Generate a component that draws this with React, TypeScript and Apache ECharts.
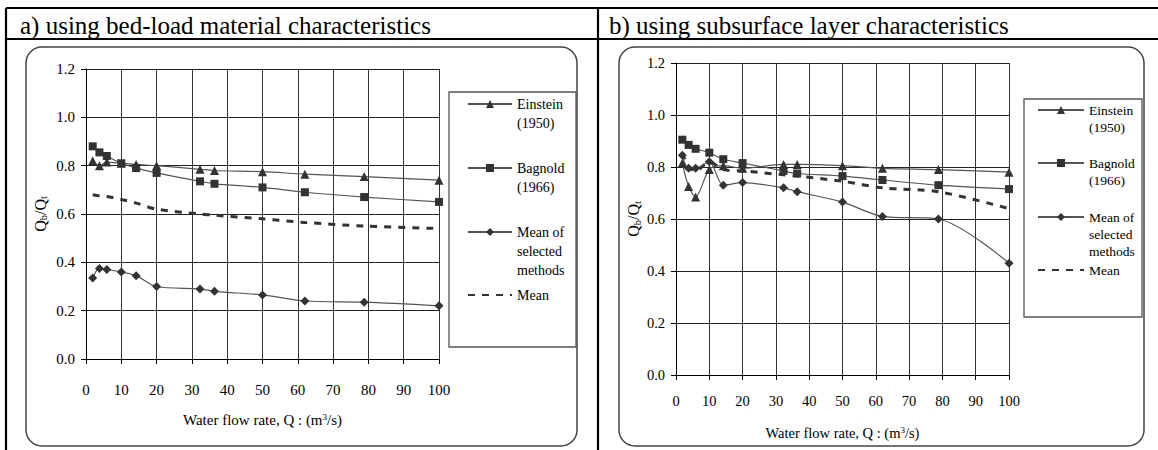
import React, { useEffect, useRef } from "react";
import * as echarts from "echarts";

// ---- data ----
const flowQ = [1.9, 3.8, 5.9, 10, 14.2, 20, 32.3, 36.4, 50, 62, 78.8, 100];

const einsteinA = [0.82, 0.8, 0.815, 0.81, 0.805, 0.8, 0.785, 0.78, 0.775, 0.765, 0.755, 0.74];
const bagnoldA = [0.88, 0.855, 0.84, 0.81, 0.79, 0.77, 0.735, 0.725, 0.71, 0.69, 0.67, 0.65];
const selectedA = [0.335, 0.375, 0.37, 0.36, 0.345, 0.3, 0.29, 0.28, 0.265, 0.24, 0.235, 0.22];
const meanA = [0.68, 0.675, 0.672, 0.66, 0.645, 0.62, 0.6, 0.595, 0.58, 0.565, 0.55, 0.54];

const einsteinB = [0.815, 0.725, 0.685, 0.79, 0.805, 0.795, 0.81, 0.81, 0.805, 0.795, 0.79, 0.78];
const bagnoldB = [0.905, 0.885, 0.87, 0.855, 0.83, 0.815, 0.785, 0.775, 0.765, 0.75, 0.73, 0.715];
const selectedB = [0.845, 0.795, 0.795, 0.82, 0.73, 0.74, 0.72, 0.705, 0.665, 0.61, 0.6, 0.43];
const meanB = [0.855, 0.8, 0.785, 0.82, 0.79, 0.785, 0.77, 0.765, 0.745, 0.72, 0.705, 0.64];

const seriesNames = ["Einstein\n(1950)", "Bagnold\n(1966)", "Mean of\nselected\nmethods", "Mean"];
const panelTitles = ["a) using bed-load material characteristics", "b) using subsurface layer characteristics"];
const xAxisTitle = "Water flow rate, Q : (m{sp|3}/s)";
const yAxisTitle = "Q{sb|b}/Q{sb|t}";

const FONT = "'Liberation Serif', 'Times New Roman', Times, serif";

const panelData = [
  [einsteinA, bagnoldA, selectedA, meanA],
  [einsteinB, bagnoldB, selectedB, meanB],
];

const layout = [
  {
    grid: { left: 86, top: 69, width: 353, height: 290 },
    fs: 15, legendFs: 14, nameFs: 15, labelMargin: 23, nameGapX: 53, nameGapY: 37,
    legendX: 467, legendYs: [104, 168, 232, 295], lh: 19, iconW: 44,
    box: { x: 26, y: 47, width: 551, height: 399 },
    legendBox: { x: 449, y: 92, width: 127, height: 255 },
    titleX: 20,
  },
  {
    grid: { left: 676, top: 63, width: 333, height: 312 },
    fs: 14.5, legendFs: 13.5, nameFs: 14.5, labelMargin: 18, nameGapX: 50, nameGapY: 33,
    legendX: 1037, legendYs: [110, 163, 217, 270], lh: 17, iconW: 46,
    box: { x: 619, y: 47, width: 525, height: 399 },
    legendBox: { x: 1024, y: 99, width: 118, height: 218 },
    titleX: 609,
  },
];

const symbols = ["triangle", "rect", "diamond", "none"];
const symbolSizes = [9, 8, 9, 0];

function buildOption() {
  const series: any[] = [];
  const legends: any[] = [];
  const graphics: any[] = [];

  layout.forEach((p, pi) => {
    panelData[pi].forEach((vals, si) => {
      const isMean = si === 3;
      series.push({
        type: "line",
        name: seriesNames[si],
        xAxisIndex: pi,
        yAxisIndex: pi,
        data: flowQ.map((q, i) => [q, vals[i]]),
        smooth: 0.3,
        symbol: symbols[si],
        symbolSize: symbolSizes[si],
        showSymbol: !isMean,
        itemStyle: { color: "#333" },
        lineStyle: isMean
          ? { color: "#333", width: 3, type: [7, 7] }
          : { color: "#555", width: 1.2 },
        z: isMean ? 3 : 4,
      });
      const n = seriesNames[si].split("\n").length;
      // blank lines above keep the icon level with the first text line
      const pad = "\n".repeat(n - 1);
      legends.push({
        show: true,
        orient: "vertical",
        left: p.legendX,
        top: p.legendYs[si] - ((2 * n - 1) * p.lh) / 2,
        padding: 0,
        itemWidth: p.iconW,
        itemHeight: 10,
        selectedMode: false,
        formatter: (name: string) => pad + name,
        data: [isMean ? { name: seriesNames[si], itemStyle: { opacity: 0 } } : { name: seriesNames[si] }],
        textStyle: {
          fontFamily: FONT,
          fontSize: p.legendFs,
          color: "#000",
          lineHeight: p.lh,
        },
      });
    });

    graphics.push({
      type: "rect",
      shape: { ...p.box, r: 16 },
      style: { fill: null, stroke: "#444", lineWidth: 1.5 },
      z: -1,
    });
    graphics.push({
      type: "rect",
      shape: { ...p.legendBox },
      style: { fill: null, stroke: "#555", lineWidth: 1.3 },
      z: -1,
    });
    graphics.push({
      type: "text",
      x: p.titleX,
      y: 25,
      style: {
        text: panelTitles[pi],
        font: `25px ${FONT}`,
        fill: "#000",
        verticalAlign: "middle",
      },
    });
  });

  // table frame
  const frame = [
    [6, 8, 1158, 8],
    [6, 39, 1158, 39],
    [6, 8, 6, 450],
    [598, 8, 598, 450],
  ];
  frame.forEach(([x1, y1, x2, y2]) =>
    graphics.push({
      type: "line",
      shape: { x1, y1, x2, y2 },
      style: { stroke: "#000", lineWidth: 2.2 },
    })
  );

  const xAxis = layout.map((p, pi) => ({
    type: "value",
    gridIndex: pi,
    min: 0,
    max: 100,
    interval: 10,
    axisLine: { show: true, onZero: false, lineStyle: { color: "#000", width: 1 } },
    axisTick: { show: true, length: 5, lineStyle: { color: "#000" } },
    splitLine: { show: true, lineStyle: { color: "#333", width: 1 } },
    axisLabel: { fontFamily: FONT, fontSize: p.fs, color: "#000", margin: p.labelMargin },
    name: xAxisTitle,
    nameLocation: "middle",
    nameGap: p.nameGapX,
    nameTextStyle: {
      fontFamily: FONT,
      fontSize: p.nameFs,
      color: "#000",
      lineHeight: 16,
      rich: { sp: { fontFamily: FONT, fontSize: 9, color: "#000", verticalAlign: "top", lineHeight: 16 } },
    },
  }));

  const yAxis = layout.map((p, pi) => ({
    type: "value",
    gridIndex: pi,
    min: 0,
    max: 1.2,
    interval: 0.2,
    axisLine: { show: true, onZero: false, lineStyle: { color: "#000", width: 1 } },
    axisTick: { show: true, length: 5, lineStyle: { color: "#000" } },
    splitLine: { show: true, lineStyle: { color: "#222", width: 1 } },
    axisLabel: {
      fontFamily: FONT,
      fontSize: p.fs,
      color: "#000",
      margin: 11,
      formatter: (v: number) => v.toFixed(1),
    },
    name: yAxisTitle,
    nameLocation: "middle",
    nameGap: p.nameGapY,
    nameTextStyle: {
      fontFamily: FONT,
      fontSize: 16,
      color: "#000",
      lineHeight: 18,
      rich: { sb: { fontFamily: FONT, fontSize: 10.5, color: "#000", verticalAlign: "bottom", lineHeight: 18 } },
    },
  }));

  return {
    animation: false,
    backgroundColor: "#fff",
    textStyle: { fontFamily: FONT },
    grid: layout.map((p) => ({ ...p.grid, containLabel: false, outerBoundsMode: "none" })),
    xAxis,
    yAxis,
    legend: legends,
    graphic: graphics,
    series,
  };
}

export default function App() {
  const ref = useRef<HTMLDivElement>(null);
  useEffect(() => {
    document.body.style.margin = "0";
    if (!ref.current) return;
    const chart = echarts.init(ref.current, undefined, { renderer: "svg" });
    chart.setOption(buildOption() as any);
    return () => chart.dispose();
  }, []);
  return (
    <div
      ref={ref}
      style={{ position: "fixed", left: 0, top: 0, width: 1158, height: 450, background: "#fff" }}
    />
  );
}
